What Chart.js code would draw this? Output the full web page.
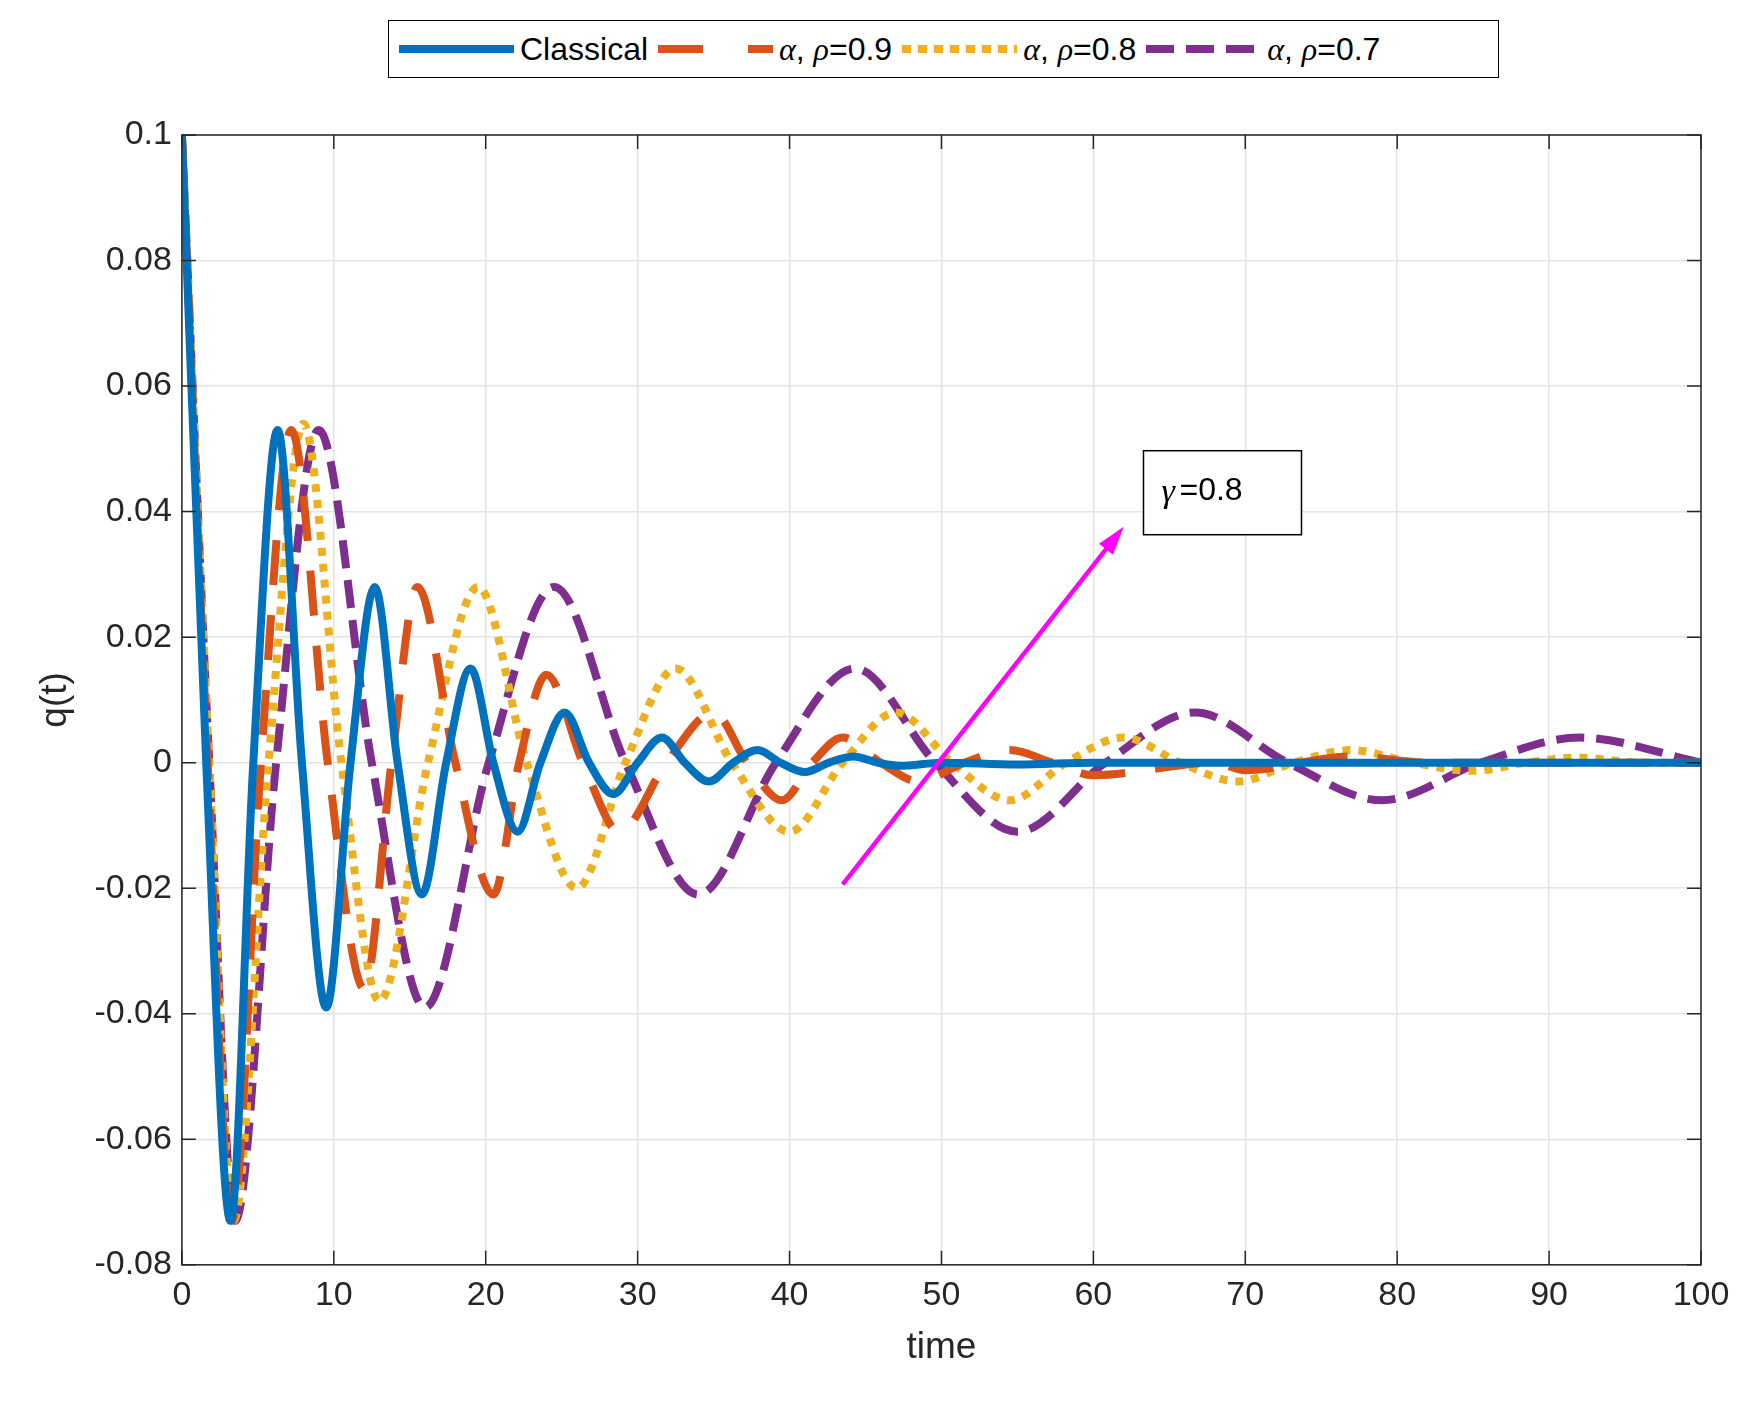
<!DOCTYPE html>
<html><head><meta charset="utf-8">
<script src="https://cdn.jsdelivr.net/npm/chart.js@4"></script>
<style>
body{margin:0;background:#fff;}
#wrap{position:relative;width:1743px;height:1410px;}
#legend{position:absolute;left:388px;top:20px;width:1109px;height:56px;border:1.5px solid #000;background:#fff;
 font-family:"Liberation Sans",Arial,sans-serif;font-size:32px;display:flex;align-items:center;white-space:nowrap;}
#legend i{font-family:"Liberation Serif",serif;}
#legend svg{margin:0 6px 0 10px;}
</style></head>
<body><div id="wrap"><canvas id="chart" width="1743" height="1410"></canvas>
<div id="legend">
<svg width="115" height="20"><line x1="0" y1="10" x2="115" y2="10" stroke="#0072BD" stroke-width="8"/></svg>Classical
<svg width="115" height="20"><line x1="0" y1="10" x2="115" y2="10" stroke="#D95319" stroke-width="8" stroke-dasharray="45 45"/></svg><i>α</i>,&nbsp;<i>ρ</i>=0.9
<svg width="115" height="20"><line x1="0" y1="10" x2="115" y2="10" stroke="#EDB120" stroke-width="8" stroke-dasharray="9 7"/></svg><i>α</i>,&nbsp;<i>ρ</i>=0.8
<svg width="115" height="20"><line x1="0" y1="10" x2="115" y2="10" stroke="#7E2F8E" stroke-width="8" stroke-dasharray="28 12"/></svg><i>α</i>,&nbsp;<i>ρ</i>=0.7
</div></div>
<script>
// extrema and zero crossings
const classicalT = [0, 1.6, 3.2, 4.7, 6.3, 7.9, 9.5, 11.1, 12.7, 14.2, 15.8, 17.4, 19, 20.5, 22.1, 23.6, 25.2, 26.8, 28.4, 30, 31.6, 33.1, 34.7, 36.3, 37.9, 39.4, 41, 42.6, 44.2, 45.8, 47.3, 50, 55, 60, 100];
const classicalQ = [0.1, 0, -0.073, 0, 0.053, 0, -0.039, 0, 0.028, 0, -0.021, 0, 0.015, 0, -0.011, 0, 0.008, 0, -0.005, 0, 0.004, 0, -0.003, 0, 0.002, 0, -0.0015, 0, 0.001, 0, -0.0005, 0, -0.0003, 0, 0];
const rho09T = [0, 1.7, 3.3, 5.2, 7.2, 9.6, 12, 13.8, 15.5, 18, 20.5, 22.2, 24, 26.4, 28.8, 31.9, 35, 37.2, 39.5, 41.5, 43.5, 46, 48.5, 51.5, 54.5, 57.3, 60, 68, 70, 77, 82, 100];
const rho09Q = [0.1, 0, -0.073, 0, 0.053, 0, -0.036, 0, 0.028, 0, -0.021, 0, 0.014, 0, -0.011, 0, 0.008, 0, -0.006, 0, 0.004, 0, -0.003, 0, 0.002, 0, -0.002, 0, -0.0012, 0.001, 0, 0];
const rho08T = [0, 1.8, 3.4, 5.7, 8, 10.5, 13, 16.2, 19.5, 22.7, 26, 29.2, 32.5, 36.2, 40, 43.5, 47, 50.7, 54.5, 58.2, 62, 65.7, 69.5, 73.2, 77, 81, 85, 88.5, 92, 96, 100];
const rho08Q = [0.1, 0, -0.073, 0, 0.054, 0, -0.038, 0, 0.028, 0, -0.02, 0, 0.015, 0, -0.011, 0, 0.008, 0, -0.006, 0, 0.004, 0, -0.003, 0, 0.002, 0, -0.0013, 0, 0.0008, 0, 0];
const rho07T = [0, 1.8, 3.5, 6.2, 9, 12.5, 16, 20.2, 24.5, 29.2, 34, 39.1, 44.3, 49.6, 55, 60.8, 66.7, 72.8, 79, 85.5, 92, 100];
const rho07Q = [0.1, 0, -0.073, 0, 0.053, 0, -0.039, 0, 0.028, 0, -0.021, 0, 0.015, 0, -0.011, 0, 0.008, 0, -0.006, 0, 0.004, 0];
const xTicks = [0, 10, 20, 30, 40, 50, 60, 70, 80, 90, 100];
const yTicks = [0.1, 0.08, 0.06, 0.04, 0.02, 0, -0.02, -0.04, -0.06, -0.08];
const arrowFrom = [43.5, -0.0194];
const arrowTo = [62, 0.0376];
const noteAt = [63.3, 0.0497];
const noteText = '=0.8';

const pts = (t, q) => t.map((v, i) => ({x: v, y: q[i]}));
const ds = (label, t, q, color, dash) => ({
    label, data: pts(t, q), borderColor: color, borderWidth: 8, borderDash: dash,
    pointRadius: 0, cubicInterpolationMode: 'monotone', fill: false
});

const extras = {
    id: 'extras',
    afterDraw(chart) {
        const c = chart.ctx, xs = chart.scales.x, ys = chart.scales.y, a = chart.chartArea;
        c.save();
        c.strokeStyle = '#262626'; c.lineWidth = 1.5;
        c.strokeRect(a.left, a.top, a.right - a.left, a.bottom - a.top);
        // inward ticks
        xTicks.forEach(v => { const px = xs.getPixelForValue(v);
            c.beginPath(); c.moveTo(px, a.bottom); c.lineTo(px, a.bottom - 14); c.moveTo(px, a.top); c.lineTo(px, a.top + 14); c.stroke(); });
        yTicks.forEach(v => { const py = ys.getPixelForValue(v);
            c.beginPath(); c.moveTo(a.left, py); c.lineTo(a.left + 14, py); c.moveTo(a.right, py); c.lineTo(a.right - 14, py); c.stroke(); });
        // arrow
        const x1 = xs.getPixelForValue(arrowFrom[0]), y1 = ys.getPixelForValue(arrowFrom[1]);
        const x2 = xs.getPixelForValue(arrowTo[0]), y2 = ys.getPixelForValue(arrowTo[1]);
        const ang = Math.atan2(y2 - y1, x2 - x1);
        c.strokeStyle = '#FF00FF'; c.fillStyle = '#FF00FF'; c.lineWidth = 4.5;
        c.beginPath(); c.moveTo(x1, y1); c.lineTo(x2 - 20 * Math.cos(ang), y2 - 20 * Math.sin(ang)); c.stroke();
        c.beginPath(); c.moveTo(x2, y2);
        c.lineTo(x2 - 30 * Math.cos(ang - 0.3), y2 - 30 * Math.sin(ang - 0.3));
        c.lineTo(x2 - 30 * Math.cos(ang + 0.3), y2 - 30 * Math.sin(ang + 0.3));
        c.closePath(); c.fill();
        // annotation box
        const bx = xs.getPixelForValue(noteAt[0]), by = ys.getPixelForValue(noteAt[1]);
        c.fillStyle = '#fff'; c.fillRect(bx, by, 158, 84);
        c.strokeStyle = '#000'; c.lineWidth = 1.5; c.strokeRect(bx, by, 158, 84);
        c.fillStyle = '#000'; c.textBaseline = 'middle';
        c.font = 'italic 34px "Liberation Serif"'; c.fillText('γ', bx + 18, by + 42);
        c.font = '32px "Liberation Sans"'; c.fillText(noteText, bx + 36, by + 40);
        c.restore();
    }
};

new Chart(document.getElementById('chart').getContext('2d'), {
    type: 'line',
    data: { datasets: [
        ds('Classical', classicalT, classicalQ, '#0072BD', []),
        ds('rho 0.9', rho09T, rho09Q, '#D95319', [45, 30]),
        ds('rho 0.8', rho08T, rho08Q, '#EDB120', [8, 8]),
        ds('rho 0.7', rho07T, rho07Q, '#7E2F8E', [28, 12])
    ]},
    plugins: [extras],
    options: {
        responsive: false, animation: false,
        layout: { padding: { top: 135, right: 42, left: 30, bottom: 36 } },
        plugins: { legend: { display: false }, tooltip: { enabled: false } },
        scales: {
            x: { type: 'linear', min: 0, max: 100,
                 afterBuildTicks: s => { s.ticks = xTicks.map(v => ({value: v})); },
                 grid: { color: '#e3e3e3', lineWidth: 1.5, drawTicks: false },
                 border: { display: false },
                 ticks: { color: '#262626', font: { size: 34, family: 'Liberation Sans' }, padding: 10, maxRotation: 0 },
                 title: { display: true, text: 'time', color: '#262626', font: { size: 37, family: 'Liberation Sans' }, padding: { top: 0 } } },
            y: { min: -0.08, max: 0.1,
                 afterBuildTicks: s => { s.ticks = yTicks.map(v => ({value: v})); },
                 grid: { color: '#e3e3e3', lineWidth: 1.5, drawTicks: false },
                 border: { display: false },
                 ticks: { color: '#262626', font: { size: 34, family: 'Liberation Sans' }, padding: 10,
                          callback: v => String(Math.round(v * 100) / 100) },
                 title: { display: true, text: 'q(t)', color: '#262626', font: { size: 37, family: 'Liberation Sans' }, padding: { bottom: 6 } } }
        }
    }
});
</script></body></html>
